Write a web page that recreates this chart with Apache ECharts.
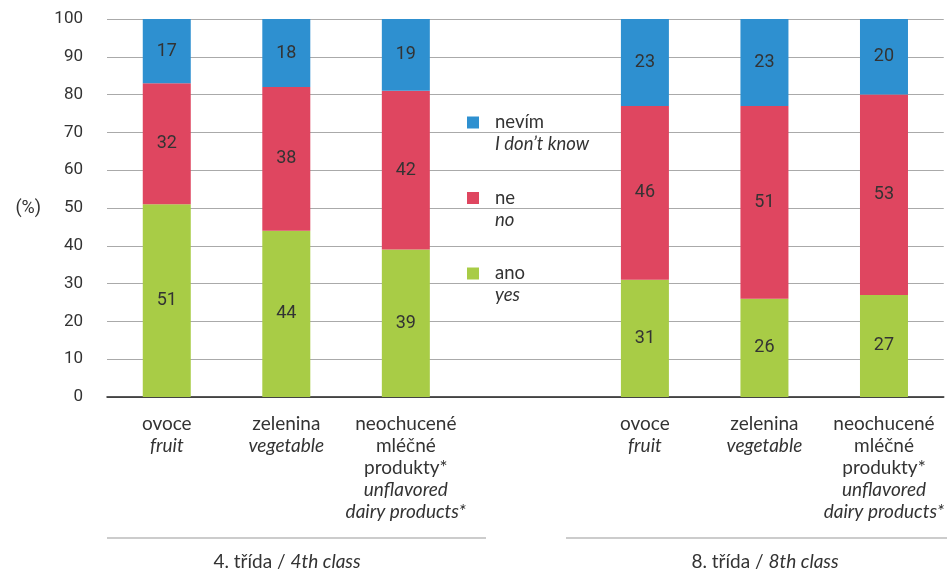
<!DOCTYPE html>
<html><head><meta charset="utf-8">
<script src="https://cdn.jsdelivr.net/npm/echarts@6/dist/echarts.min.js"></script>
<style>html,body{margin:0;padding:0;background:#fff}#c{width:947px;height:572px}</style>
</head><body><div id="c"></div>
<script>
const catCz = ['ovoce', 'zelenina', 'neochucené\nmléčné\nprodukty*', '', 'ovoce', 'zelenina', 'neochucené\nmléčné\nprodukty*'];
const catEn = ['fruit', 'vegetable', 'unflavored\ndairy products*', '', 'fruit', 'vegetable', 'unflavored\ndairy products*'];
const ano = [51, 44, 39, null, 31, 26, 27];
const ne = [32, 38, 42, null, 46, 51, 53];
const nevim = [17, 18, 19, null, 23, 23, 20];
const seriesNamesCz = ['ano', 'ne', 'nevím'];
const seriesNamesEn = ['yes', 'no', 'I don\u2019t know'];
const groupLabelsCz = ['4. třída', '8. třída'];
const groupLabelsEn = ['4th class', '8th class'];
const yTicks = [0, 10, 20, 30, 40, 50, 60, 70, 80, 90, 100];

const colors = ['#a8cc46', '#df4660', '#2e90d0'];
const txt = '#333333';
const labFont = 'Lato';

const chart = echarts.init(document.getElementById('c'));
const mkSeries = (name, data, color) => ({
  name, type: 'bar', stack: 'all', data, barWidth: 48,
  itemStyle: { color },
  label: { show: true, position: 'inside', color: txt, fontSize: 18, fontFamily: 'Roboto' }
});

const enByCz = {};
seriesNamesCz.forEach((n, i) => enByCz[n] = seriesNamesEn[i]);

chart.setOption({
  animation: false,
  grid: { left: 107, right: 0, top: 19, bottom: 175 },
  xAxis: {
    type: 'category', data: catCz.map((c, i) => i),
    axisLine: { lineStyle: { color: '#222', width: 1.5 } },
    axisTick: { show: false },
    axisLabel: {
      interval: 0, margin: 16,
      formatter: (v) => {
        const i = +v;
        if (!catCz[i]) return '';
        const cz = catCz[i].split('\n').map(s => '{a|' + s + '}').join('\n');
        const en = catEn[i].split('\n').map(s => '{b|' + s + '}').join('\n');
        return cz + '\n' + en;
      },
      rich: {
        a: { fontFamily: labFont, fontSize: 19, lineHeight: 22, color: txt },
        b: { fontFamily: labFont, fontStyle: 'italic', fontSize: 19, lineHeight: 22, color: txt }
      }
    }
  },
  yAxis: {
    type: 'value', min: 0, max: 100, interval: 10,
    name: '(%)', nameLocation: 'middle', nameRotate: 0, nameGap: 66,
    nameTextStyle: { color: txt, fontSize: 18, fontFamily: 'Roboto' },
    axisLabel: { color: txt, fontSize: 17, fontFamily: 'Roboto', margin: 24 },
    splitLine: { lineStyle: { color: '#aaaaaa', width: 1.2 } },
    axisLine: { show: false }, axisTick: { show: false }
  },
  legend: {
    orient: 'vertical', left: 462, top: 108, itemGap: 34.5,
    data: ['nevím', 'ne', 'ano'],
    icon: 'rect', itemWidth: 12, itemHeight: 12,
    formatter: (n) => '{a|' + n + '}\n{b|' + enByCz[n] + '}',
    textStyle: {
      padding: [22, 0, 0, 11],
      rich: {
        a: { fontFamily: labFont, fontSize: 18.5, lineHeight: 22, color: txt },
        b: { fontFamily: labFont, fontStyle: 'italic', fontSize: 18.5, lineHeight: 22, color: txt }
      }
    }
  },
  graphic: [
    { type: 'line', shape: { x1: 107, y1: 538, x2: 486, y2: 538 }, style: { stroke: '#999', lineWidth: 1.2 } },
    { type: 'line', shape: { x1: 566, y1: 538, x2: 947, y2: 538 }, style: { stroke: '#999', lineWidth: 1.2 } },
    { type: 'text', x: 287, y: 562, style: { text: '{a|' + groupLabelsCz[0] + ' / }{b|' + groupLabelsEn[0] + '}', align: 'center', verticalAlign: 'middle',
      rich: { a: { fontFamily: labFont, fontSize: 19, fill: txt }, b: { fontFamily: labFont, fontStyle: 'italic', fontSize: 19, fill: txt } } } },
    { type: 'text', x: 765, y: 562, style: { text: '{a|' + groupLabelsCz[1] + ' / }{b|' + groupLabelsEn[1] + '}', align: 'center', verticalAlign: 'middle',
      rich: { a: { fontFamily: labFont, fontSize: 19, fill: txt }, b: { fontFamily: labFont, fontStyle: 'italic', fontSize: 19, fill: txt } } } }
  ],
  series: [
    mkSeries(seriesNamesCz[0], ano, colors[0]),
    mkSeries(seriesNamesCz[1], ne, colors[1]),
    mkSeries(seriesNamesCz[2], nevim, colors[2])
  ]
});
</script></body></html>
